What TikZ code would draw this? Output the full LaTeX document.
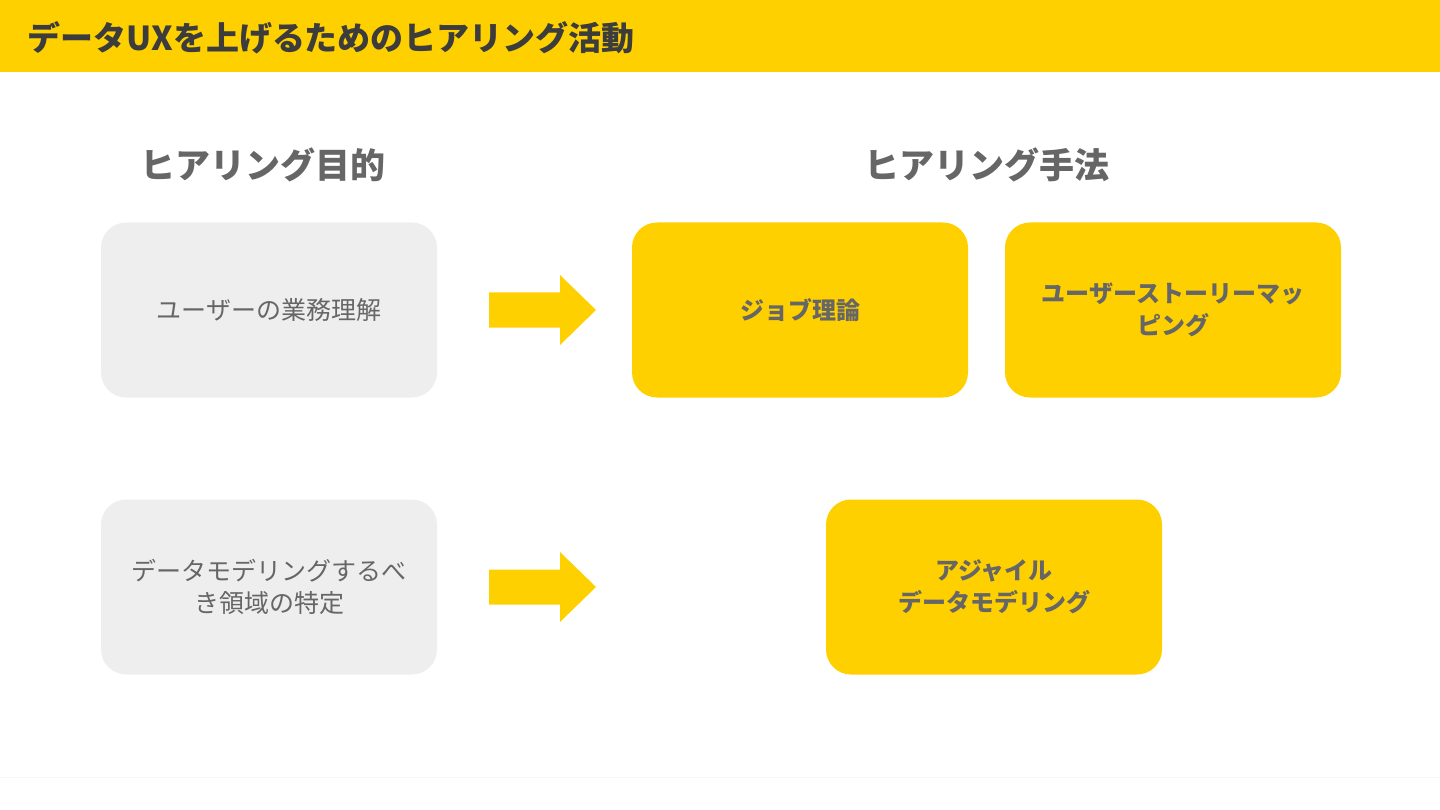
\documentclass[tikz,border=0pt]{standalone}
\usepackage{fontspec}
\setmainfont{Noto Sans CJK JP}
\usepackage{tikz}
\definecolor{barYellow}{HTML}{FFD000}
\definecolor{boxGray}{HTML}{EEEEEE}
\definecolor{txtGray}{HTML}{666666}
\definecolor{titleGray}{HTML}{3C3C3C}

\begin{document}
\begin{tikzpicture}[x=1pt,y=-1pt,
goal/.style={fill=boxGray,rounded corners=25pt,minimum width=336pt,minimum height=175pt,inner sep=0pt,text width=310pt,align=center,text=txtGray,font=\fontsize{25}{32}\selectfont},
method/.style={goal,fill=barYellow,font=\bfseries\fontsize{24}{32}\selectfont},
head/.style={text=txtGray,font=\bfseries\fontsize{35}{40}\selectfont}]

\useasboundingbox (0,0) rectangle (1440,810);

% title bar
\fill[barYellow] (0,0) rectangle (1440,72);
\node[anchor=west,text=titleGray,font=\bfseries\fontsize{33}{36}\selectfont] (title) at (24,38) {データUXを上げるためのヒアリング活動};
\draw[color=black!3] (0,777) -- (1440,777);

\node[head] (goalHead) at (263,165) {ヒアリング目的};
\node[head] (methodHead) at (987,165) {ヒアリング手法};

\node[goal] (work) at (269,310) {ユーザーの業務理解};
\node[goal] (scope) at (269,587) {データモデリングするべ\\き領域の特定};

\node[method] (job) at (800,310) {ジョブ理論};
\node[method] (usm) at (1173,310) {ユーザーストーリーマッ\\ピング};
\node[method] (agile) at (994,587) {アジャイル\\データモデリング};

\foreach \y in {310,587}
{
\fill[barYellow] (489,\y-17.5) -- (560,\y-17.5) -- (560,\y-35) -- (596,\y) -- (560,\y+35) -- (560,\y+17.5) -- (489,\y+17.5) -- cycle;
}
\end{tikzpicture}
\end{document}
